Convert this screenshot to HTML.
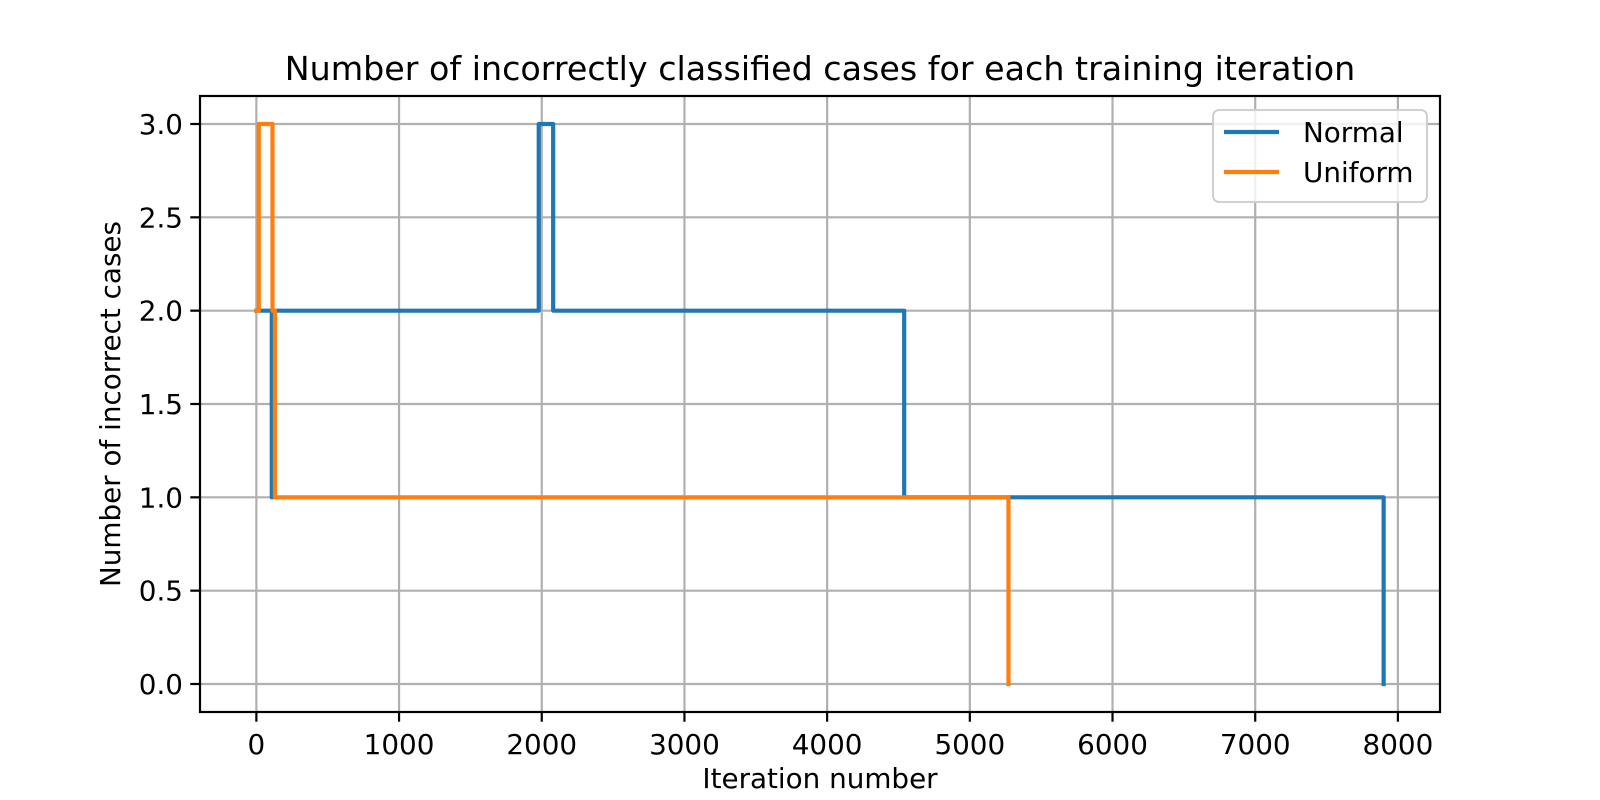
<!DOCTYPE html>
<html><head><meta charset="utf-8"><style>
html,body{margin:0;padding:0;background:#fff;}
svg{display:block;font-family:"DejaVu Sans","Liberation Sans",sans-serif;}
</style></head><body>
<svg id="chart" width="1600" height="800" viewBox="0 0 1600 800" xmlns="http://www.w3.org/2000/svg">
<rect width="1600" height="800" fill="#fff"/>
<g id="grid"></g>
<g id="series"></g>
<rect x="200" y="96" width="1240" height="616" fill="none" stroke="#000" stroke-width="2.2"/>
<g id="ticks"></g>
<text x="820" y="80" text-anchor="middle" font-size="33.3">Number of incorrectly classified cases for each training iteration</text>
<text x="820" y="788" text-anchor="middle" font-size="27.8">Iteration number</text>
<text transform="translate(120,404) rotate(-90)" text-anchor="middle" font-size="27.8">Number of incorrect cases</text>
<g>
<rect x="1213" y="110" width="214" height="92" rx="6" fill="#fff" fill-opacity="0.8" stroke="#d0d0d0" stroke-width="2"/>
<line x1="1224" y1="132" x2="1279" y2="132" stroke="#1f77b4" stroke-width="4.2"/>
<text x="1303" y="142" font-size="27.8">Normal</text>
<line x1="1224" y1="172" x2="1279" y2="172" stroke="#ff7f0e" stroke-width="4.2"/>
<text x="1303" y="182" font-size="27.8">Uniform</text>
</g>
</svg>
<script>
const xTicks = [0,1000,2000,3000,4000,5000,6000,7000,8000];
const yTicks = [0,0.5,1,1.5,2,2.5,3];
const normalX = [0,108,108,112,112,1979,1979,2080,2080,4540,4540,7900,7900];
const normalY = [2,2,1,1,2,2,3,3,2,2,1,1,0];
const uniformX = [0,17,17,113,113,130,130,5271,5271];
const uniformY = [2,2,3,3,2,2,1,1,0];
const L=200,R=1440,T=96,B=712, xmin=-395, xmax=8295, ymin=-0.15, ymax=3.15;
const sx=v=>L+(v-xmin)/(xmax-xmin)*(R-L);
const sy=v=>B-(v-ymin)/(ymax-ymin)*(B-T);
const NS='http://www.w3.org/2000/svg';
function mk(tag,attrs,parent){const e=document.createElementNS(NS,tag);for(const k in attrs)e.setAttribute(k,attrs[k]);parent.appendChild(e);return e;}
const grid=document.getElementById('grid'),ticks=document.getElementById('ticks'),series=document.getElementById('series');
xTicks.forEach(t=>{
  const x=sx(t);
  const g=mk('line',{x1:x,x2:x,y1:T,y2:B,stroke:'#b0b0b0','stroke-width':2.2},grid);
  
  
  const tk=mk('line',{x1:x,x2:x,y1:B,y2:B+9.7,stroke:'#000','stroke-width':2.2},ticks);
  
  
  const tx=mk('text',{x:x,y:B+42,'text-anchor':'middle','font-size':27.8},ticks);
  tx.textContent=String(t);
  
  
});
yTicks.forEach(t=>{
  const y=sy(t);
  const g=mk('line',{x1:L,x2:R,y1:y,y2:y,stroke:'#b0b0b0','stroke-width':2.2},grid);
  
  
  const tk=mk('line',{x1:L-9.7,x2:L,y1:y,y2:y,stroke:'#000','stroke-width':2.2},ticks);
  
  
  const tx=mk('text',{x:L-17,y:y+10,'text-anchor':'end','font-size':27.8},ticks);
  tx.textContent=t.toFixed(1);
  
  
});
function draw(xs,ys,color,name){
  const pts=xs.map((x,i)=>sx(x).toFixed(2)+','+sy(ys[i]).toFixed(2)).join(' ');
  const p=mk('polyline',{points:pts,fill:'none',stroke:color,'stroke-width':4.2,'stroke-linejoin':'round','stroke-linecap':'square'},series);
  
  
}
draw(normalX,normalY,'#1f77b4','normal-line');
draw(uniformX,uniformY,'#ff7f0e','uniform-line');
</script>
</body></html>
